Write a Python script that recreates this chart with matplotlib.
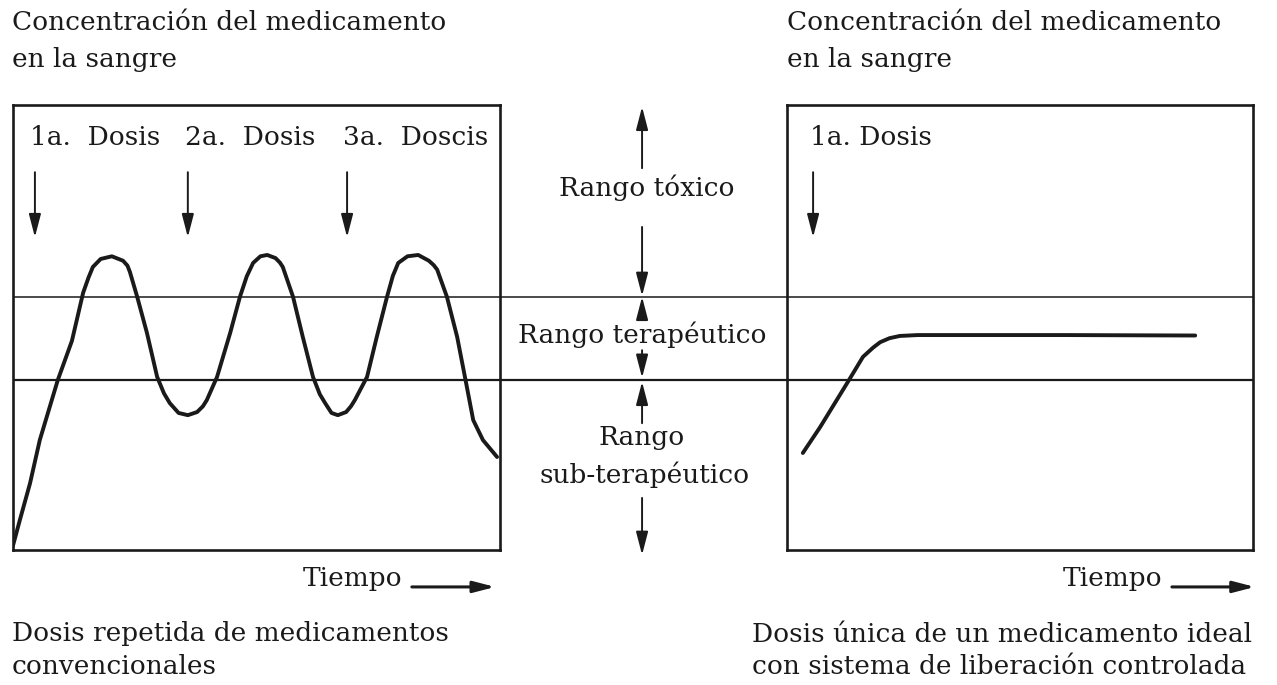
import numpy as np
import matplotlib.pyplot as plt

# datos (tiempo 0-100, concentracion 0-100)
t_conv = [0, 1.4, 3.5, 5.5, 9.2, 12.1, 14.4, 15.5, 16.4, 18.0, 20.3, 22.6, 23.5, 24.0,
          25.5, 27.5, 29.6, 31.0, 32.2, 34.0, 35.9, 37.8, 39.0, 39.8, 41.9, 44.6, 46.6,
          48.0, 49.3, 50.8, 52.2, 53.9, 54.8, 55.4, 57.5, 59.5, 61.6, 63.0, 64.1, 65.4,
          66.7, 68.4, 69.4, 70.2, 72.7, 74.7, 76.8, 78.0, 79.1, 81.0, 83.2, 85.4, 86.4,
          87.1, 89.1, 91.2, 92.8, 94.5, 96.5, 99.4]
c_conv = [1, 6.7, 15, 24.7, 38.2, 47, 57.8, 61.2, 63.6, 65.4, 66.0, 65.0, 63.9, 62.5,
          56.9, 48.8, 38.9, 35.2, 33, 30.8, 30.3, 31.0, 32.3, 33.7, 38.9, 48.8, 56.9,
          61.5, 64.5, 66.0, 66.3, 65.6, 64.6, 63.6, 56.9, 47.9, 38.9, 35.0, 33, 30.8,
          30.3, 31.0, 32.3, 33.7, 38.9, 47.9, 56.9, 61.6, 64.5, 66.0, 66.3, 65.0, 64.0,
          63, 56.9, 47.9, 38.9, 29.2, 24.7, 20.9]

t_ctrl = [3.4, 7.1, 12.9, 16.3, 18.5, 20.0, 22.0, 24.2, 28.0, 34.3, 60, 87.6]
c_ctrl = [21.8, 27.6, 37.5, 43.4, 45.5, 46.7, 47.6, 48.1, 48.3, 48.3, 48.3, 48.2]

lim_toxico = 56.9
lim_sub = 38.2

dosis_conv = [4.5, 35.9, 68.6]
etiq_conv = ['1a.  Dosis', '2a.  Dosis', '3a.  Doscis']
etiq_x_conv = [3.5, 35.3, 67.8]
dosis_ctrl = [5.6]
etiq_ctrl = ['1a. Dosis']
etiq_x_ctrl = [4.9]

plt.rcParams['font.family'] = ['DejaVu Serif']
tinta = '#1a1a1a'
fs = 19
W, H = 1277, 685

fig = plt.figure(figsize=(W / 100, H / 100), dpi=100)

def caja(x0, x1, y0=105, y1=550):
    return [x0 / W, 1 - y1 / H, (x1 - x0) / W, (y1 - y0) / H]

ax1 = fig.add_axes(caja(13, 500))
axm = fig.add_axes(caja(500, 787))
ax2 = fig.add_axes(caja(787, 1253))

for ax in (ax1, axm, ax2):
    ax.set_ylim(0, 100)
    ax.axhline(lim_toxico, color=tinta, lw=1.1)
    ax.axhline(lim_sub, color=tinta, lw=1.6)
    ax.set_xticks([])
    ax.set_yticks([])
for ax in (ax1, ax2):
    ax.set_xlim(0, 100)
    for s in ax.spines.values():
        s.set_linewidth(1.9)
        s.set_color(tinta)
axm.set_xlim(0, 1)
axm.axis('off')

flecha = dict(arrowstyle='-|>,head_width=0.26,head_length=1.0', color=tinta, lw=1.4,
              shrinkA=0, shrinkB=0, mutation_scale=14)
flecha_t = dict(flecha, lw=2.2, mutation_scale=13)

# curva de dosis repetidas
ax1.plot(t_conv, c_conv, color=tinta, lw=2.8, solid_capstyle='round', solid_joinstyle='round')
for x, lx, txt in zip(dosis_conv, etiq_x_conv, etiq_conv):
    ax1.annotate('', xy=(x, 70.3), xytext=(x, 84.9), arrowprops=flecha)
    ax1.text(lx, 92.8, txt, fontsize=fs, color=tinta, va='center', ha='left')

# curva liberacion controlada
ax2.plot(t_ctrl, c_ctrl, color=tinta, lw=2.8, solid_capstyle='round', solid_joinstyle='round')
for x, lx, txt in zip(dosis_ctrl, etiq_x_ctrl, etiq_ctrl):
    ax2.annotate('', xy=(x, 70.3), xytext=(x, 84.9), arrowprops=flecha)
    ax2.text(lx, 92.8, txt, fontsize=fs, color=tinta, va='center', ha='left')

# rangos en el centro
xa = 0.495
pares = [(85.8, 99.6), (72.6, 57.1), (51.7, 56.9), (44.9, 38.7), (28.5, 37.8), (11.7, -1.1)]
for y0, y1 in pares:
    axm.annotate('', xy=(xa, y1), xytext=(xa, y0), arrowprops=flecha, annotation_clip=False)
axm.text(0.51, 81.3, 'Rango tóxico', fontsize=fs, color=tinta, ha='center', va='center')
axm.text(0.495, 48.3, 'Rango terapéutico', fontsize=fs, color=tinta, ha='center', va='center')
axm.text(0.495, 25.2, 'Rango', fontsize=fs, color=tinta, ha='center', va='center')
axm.text(0.505, 16.9, 'sub-terapéutico', fontsize=fs, color=tinta, ha='center', va='center')

# eje del tiempo
for ax, xt, xa0, xa1 in ((ax1, 59.5, 81.9, 99.0), (ax2, 59.2, 82.6, 100.4)):
    ax.text(xt, -6.3, 'Tiempo', fontsize=fs, color=tinta, ha='left', va='center', clip_on=False)
    ax.annotate('', xy=(xa1, -8.3), xytext=(xa0, -8.3), arrowprops=flecha_t, annotation_clip=False)

# textos de arriba y abajo
def txt(px, py, s):
    fig.text(px / W, 1 - py / H, s, fontsize=fs, color=tinta, ha='left', va='center')

txt(12, 23, 'Concentración del medicamento')
txt(12, 59, 'en la sangre')
txt(787, 23, 'Concentración del medicamento')
txt(787, 59, 'en la sangre')
txt(12, 634, 'Dosis repetida de medicamentos')
txt(12, 667, 'convencionales')
txt(752, 634, 'Dosis única de un medicamento ideal')
txt(752, 667, 'con sistema de liberación controlada')

fig.savefig('out.png', dpi=100)
